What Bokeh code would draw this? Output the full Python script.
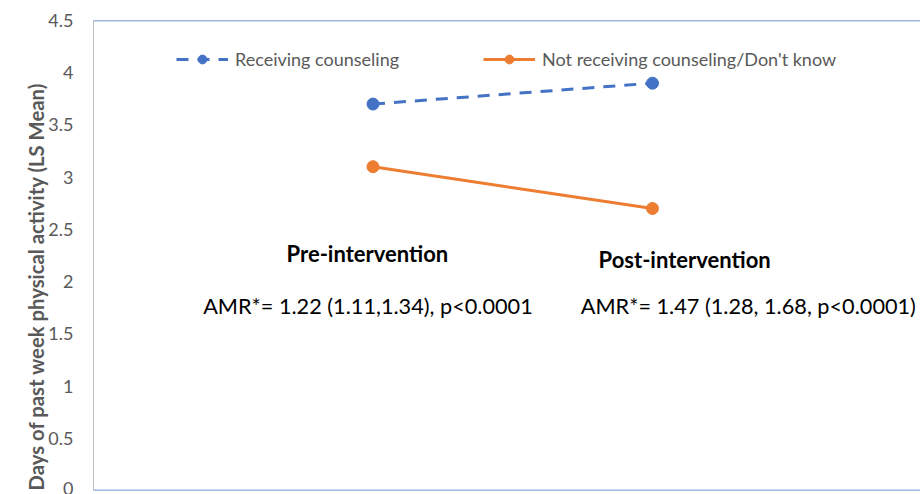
from bokeh.plotting import figure
from bokeh.models import Range1d, Label, Legend, LegendItem, FixedTicker, Span, Title
from bokeh.embed import file_html
from bokeh.resources import INLINE

# ---- data ----
periods = ["Pre-intervention", "Post-intervention"]
period_x = [1, 2]
receiving = [3.7, 3.9]
not_receiving = [3.1, 2.7]
series_names = ["Receiving counseling", "Not receiving counseling/Don't know"]
y_ticks = [0, 0.5, 1, 1.5, 2, 2.5, 3, 3.5, 4, 4.5]
y_tick_labels = ["0", "0.5", "1", "1.5", "2", "2.5", "3", "3.5", "4", "4.5"]
amr_texts = ["AMR*= 1.22 (1.11,1.34), p<0.0001", "AMR*= 1.47 (1.28, 1.68, p<0.0001)"]
y_label = "Days of past week physical activity (LS Mean)"

BLUE = "#4472C4"
ORANGE = "#ED7D31"
GREY = "#595959"
FONT = "Lato"

p = figure(width=920, height=494, output_backend="svg", toolbar_location=None,
           x_range=Range1d(0, 2.959), y_range=Range1d(0, 4.5),
           min_border_left=93, min_border_right=0, min_border_top=20, min_border_bottom=4)
p.xaxis.visible = False
p.xgrid.visible = False
p.ygrid.visible = False
p.outline_line_color = None
p.background_fill_color = "white"
p.border_fill_color = "white"

ya = p.yaxis[0]
ya.ticker = FixedTicker(ticks=y_ticks)
ya.major_label_overrides = {t: l for t, l in zip(y_ticks, y_tick_labels)}
ya.major_tick_line_color = None
ya.minor_tick_line_color = None
ya.axis_line_color = "#BFBFBF"
ya.axis_line_width = 1
ya.major_label_text_font = FONT
ya.major_label_text_font_size = "18px"
ya.major_label_text_color = GREY
ya.major_label_standoff = 14

# blue top and bottom border lines
p.add_layout(Span(location=4.5, dimension="width", line_color=BLUE, line_width=1.5))
p.add_layout(Span(location=0, dimension="width", line_color=BLUE, line_width=1.5))

l1 = p.line(period_x, receiving, line_color=BLUE, line_width=3, line_dash="12 9")
s1 = p.scatter(period_x, receiving, size=12, fill_color=BLUE, line_color=BLUE)
l2 = p.line(period_x, not_receiving, line_color=ORANGE, line_width=3)
s2 = p.scatter(period_x, not_receiving, size=12, fill_color=ORANGE, line_color=ORANGE)

legend = Legend(items=[LegendItem(label=series_names[0], renderers=[l1, s1]),
                       LegendItem(label=series_names[1], renderers=[l2, s2])],
                orientation="horizontal", location=(83, 420),
                glyph_width=52, glyph_height=22, label_standoff=7, spacing=84,
                padding=0, margin=0, border_line_color=None, background_fill_alpha=0,
                label_text_font=FONT, label_text_font_size="18px", label_text_color=GREY)
p.add_layout(legend, "center")

# period headings
head_pos = [(0.98, 2.265), (2.115, 2.21)]
for name, (hx, hy) in zip(periods, head_pos):
    p.add_layout(Label(x=hx, y=hy, text=name, text_font=FONT, text_font_size="22px",
                       text_font_style="bold", text_color="black",
                       text_align="center", text_baseline="middle"))

amr_pos = [(0.982, 1.77), (2.343, 1.77)]
for t, (ax_, ay_) in zip(amr_texts, amr_pos):
    p.add_layout(Label(x=ax_, y=ay_, text=t, text_font=FONT, text_font_size="21.7px",
                       text_color="black", text_align="center", text_baseline="middle"))

# y-axis title (starts at the bottom of the plot area, as in the reference)
p.add_layout(Title(text=y_label, align="left", offset=0, standoff=-5, text_font=FONT,
                   text_font_size="20.3px", text_font_style="bold", text_color=GREY),
             "left")

open("out.html", "w").write(file_html(p, INLINE))
